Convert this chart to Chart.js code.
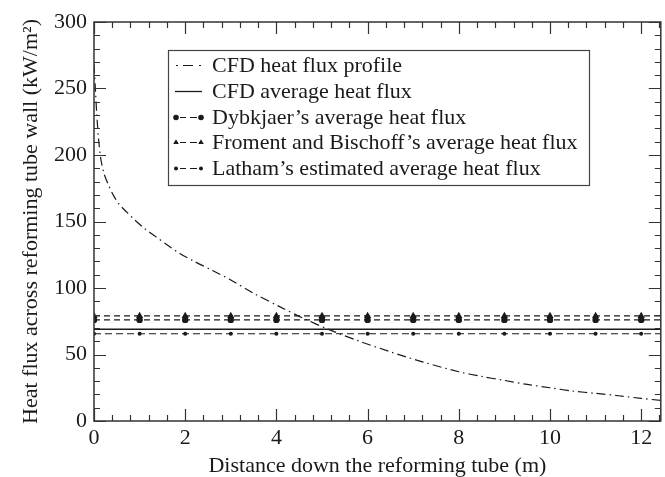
<!DOCTYPE html>
<html><head><meta charset="utf-8">
<script src="https://cdn.jsdelivr.net/npm/chart.js@4.4.1/dist/chart.umd.min.js"></script>
<style>html,body{margin:0;padding:0;background:#fff}#wrap{width:665px;height:477px}</style>
</head><body><div id="wrap"><canvas id="c" width="665" height="477"></canvas></div>
<script>
// ---- data ----
const curveX = [0, 0.03, 0.06, 0.1, 0.15, 0.22, 0.31, 0.42, 0.55, 0.72, 0.9, 1.1, 1.34, 1.6, 1.88, 2.2, 2.61, 3.0, 3.5, 4.07, 4.58, 5.17, 5.82, 6.5, 7.2, 8.0, 8.5, 9.0, 9.5, 10.0, 10.5, 11.0, 11.5, 12.0, 12.43];
const curveY = [268, 250, 231, 212, 197, 186, 178, 170, 163, 157, 151, 145, 139, 132.5, 126, 120, 113, 106, 96, 86, 77.4, 68.5, 60, 52, 44.5, 37, 33.5, 30.5, 27.5, 25, 22.5, 20.8, 19, 17, 15.5];
const markerX = [0,1,2,3,4,5,6,7,8,9,10,11,12];
const cfdAverage = 69;
const dybkjaerAvg = 76;
const fromentAvg = 79;
const lathamAvg = 65.6;
const xMin = 0, xMax = 12.43, yMin = 0, yMax = 300;
const xTickLabels = [0,2,4,6,8,10,12];
const yTickLabels = [0,50,100,150,200,250,300];
const seriesNames = ["CFD heat flux profile","CFD average heat flux","Dybkjaer\u2019s average heat flux","Froment and Bischoff\u2019s average heat flux","Latham\u2019s estimated average heat flux"];
const xTitle = "Distance down the reforming tube (m)";
const yTitle = "Heat flux across reforming tube wall (kW/m\u00B2)";

const INK = '#1a1a1a';
const FONT = "'Liberation Serif', 'DejaVu Serif', serif";

function hline(v){ return markerX.map(x=>({x:x,y:v})).concat([{x:xMax,y:v}]); }
function radii(r){ return markerX.map(()=>r).concat([0]); }

const datasets = [
  {label:seriesNames[0], data:curveX.map((x,i)=>({x:x,y:curveY[i]})), borderColor:INK, borderWidth:1.2, borderDash:[9,4,1.5,4], pointRadius:0, tension:0.3},
  {label:seriesNames[1], data:[{x:xMin,y:cfdAverage},{x:xMax,y:cfdAverage}], borderColor:INK, borderWidth:1.3, pointRadius:0},
  {label:seriesNames[2], data:hline(dybkjaerAvg), borderColor:INK, borderWidth:1.2, borderDash:[6,4], pointStyle:'circle', pointRadius:radii(3.2), pointBackgroundColor:INK, pointBorderColor:INK, pointBorderWidth:0},
  {label:seriesNames[3], data:hline(fromentAvg), borderColor:INK, borderWidth:1.2, borderDash:[6,4], pointStyle:'triangle', pointRadius:radii(4.2), pointBackgroundColor:INK, pointBorderColor:INK, pointBorderWidth:0},
  {label:seriesNames[4], data:hline(lathamAvg), borderColor:INK, borderWidth:1.2, borderDash:[7,4], pointStyle:'circle', pointRadius:radii(2), pointBackgroundColor:INK, pointBorderColor:INK, pointBorderWidth:0}
];
const legendMarkerRadius = [0, 0, 2.8, 3.2, 2];

const framePlugin = {
  id:'frame',
  afterDatasetsDraw(chart){
    const ctx = chart.ctx, a = chart.chartArea, xs = chart.scales.x, ys = chart.scales.y;
    ctx.save();
    ctx.strokeStyle = '#333'; ctx.lineWidth = 1.2;
    ctx.beginPath();
    for (let i=0;i<=Math.round(xMax/0.4);i++){
      const v = i*0.4; if (v > xMax) break;
      const px = Math.round(xs.getPixelForValue(v))+0.5;
      const major = Math.abs(v/2 - Math.round(v/2)) < 1e-6;
      const L = major ? 12 : 6;
      ctx.moveTo(px,a.bottom); ctx.lineTo(px,a.bottom-L);
      ctx.moveTo(px,a.top); ctx.lineTo(px,a.top+L);
    }
    for (let v=yMin; v<=yMax; v+=10){
      const py = Math.round(ys.getPixelForValue(v))+0.5;
      const L = (v%50===0) ? 12 : 6;
      ctx.moveTo(a.left,py); ctx.lineTo(a.left+L,py);
      ctx.moveTo(a.right,py); ctx.lineTo(a.right-L,py);
    }
    ctx.stroke();
    ctx.lineWidth = 1.5; ctx.strokeStyle='#333';
    ctx.strokeRect(a.left, a.top, a.right-a.left, a.bottom-a.top);
    ctx.restore();
  },
  afterDraw(chart){
    const ctx = chart.ctx;
    const bx=168, by=50, bw=421, bh=135;
    ctx.save();
    ctx.fillStyle='#fff'; ctx.fillRect(bx,by,bw,bh);
    ctx.strokeStyle='#444'; ctx.lineWidth=1.2; ctx.strokeRect(bx+0.5,by+0.5,bw,bh);
    const x0=175, x1=202, tx=212;
    chart.data.datasets.forEach((ds,i)=>{
      const y = Math.round(65 + i*25.8)+0.5;
      ctx.strokeStyle = ds.borderColor; ctx.lineWidth = ds.borderWidth;
      ctx.setLineDash([]);
      ctx.beginPath();
      if (i===0){
        ctx.moveTo(x0+1,y); ctx.lineTo(x0+3,y);
        ctx.moveTo(x0+8,y); ctx.lineTo(x0+18,y);
        ctx.moveTo(x1-3,y); ctx.lineTo(x1-1,y);
      } else if (i===1){
        ctx.moveTo(x0,y); ctx.lineTo(x1,y);
      } else {
        ctx.moveTo(x0+5,y); ctx.lineTo(x0+11,y);
        ctx.moveTo(x0+15,y); ctx.lineTo(x1-5,y);
        ctx.moveTo(x0,y); ctx.lineTo(x0+3,y);
        ctx.moveTo(x1-3,y); ctx.lineTo(x1,y);
      }
      ctx.stroke();
      if (i>=2){
        const r = legendMarkerRadius[i];
        [x0+1,x1-1].forEach(px=>{
          ctx.fillStyle=INK; ctx.strokeStyle=INK;
          Chart.helpers.drawPoint(ctx,{pointStyle:ds.pointStyle,radius:r,borderWidth:0},px,y);
        });
      }
      ctx.fillStyle = INK; ctx.font = "22px " + FONT; ctx.textBaseline='middle'; ctx.textAlign='left';
      ctx.fillText(ds.label, tx, y+1);
    });
    ctx.restore();
  }
};

new Chart(document.getElementById('c'), {
  type:'line',
  data:{datasets:datasets},
  plugins:[framePlugin],
  options:{
    responsive:false, devicePixelRatio:1, animation:false,
    layout:{padding:{left:0,right:3,top:22,bottom:0}},
    plugins:{legend:{display:false}, tooltip:{enabled:false}},
    scales:{
      x:{type:'linear', min:xMin, max:xMax,
        grid:{display:false, drawTicks:false}, border:{display:false},
        ticks:{stepSize:2, includeBounds:false, padding:4, color:INK, font:{family:FONT,size:22},
          callback:(v)=> xTickLabels.includes(v) ? String(v) : ''},
        title:{display:true, text:xTitle, color:INK, font:{family:FONT,size:22,lineHeight:1}, padding:{top:0,bottom:0}},
        afterFit(s){ s.height = 56; }
      },
      y:{type:'linear', min:yMin, max:yMax,
        grid:{display:false, drawTicks:false}, border:{display:false},
        ticks:{stepSize:50, padding:7, color:INK, font:{family:FONT,size:22},
          callback:(v)=> yTickLabels.includes(v) ? String(v) : ''},
        title:{display:true, text:yTitle, color:INK, font:{family:FONT,size:22,lineHeight:1.2}, padding:{top:18,bottom:0}},
        afterFit(s){ s.width = 94; }
      }
    }
  }
});
</script></body></html>
